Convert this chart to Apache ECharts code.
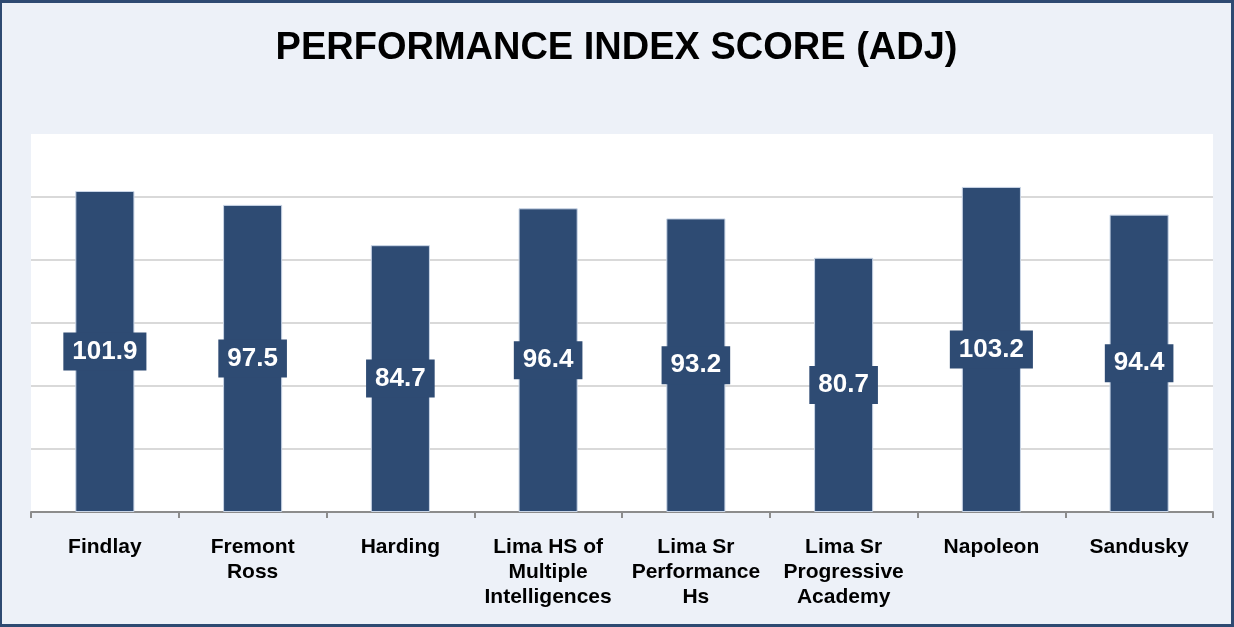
<!DOCTYPE html>
<html>
<head>
    <meta charset="utf-8">
    <script src="https://cdn.jsdelivr.net/npm/echarts@6/dist/echarts.min.js"></script>
    <style>
        html, body { margin: 0; padding: 0; }
        #main {
            width: 1234px; height: 627px;
            box-sizing: border-box;
            border: 3px solid #2e4a72;
            border-left-width: 2px;
            background: #edf1f8;
        }
    </style>
</head>
<body>
<div id="main"></div>
<script type="text/javascript">
    // 学校名 / 分数
    var schools = ['Findlay', 'Fremont\nRoss', 'Harding', 'Lima HS of\nMultiple\nIntelligences',
        'Lima Sr\nPerformance\nHs', 'Lima Sr\nProgressive\nAcademy', 'Napoleon', 'Sandusky'];
    var scores = [101.9, 97.5, 84.7, 96.4, 93.2, 80.7, 103.2, 94.4];

    var barColor = '#2e4b73';
    var font = '"Liberation Sans", Arial, sans-serif';

    var myChart = echarts.init(document.getElementById('main'));
    myChart.setOption({
        animation: false,
        title: {
            text: 'PERFORMANCE INDEX SCORE (ADJ)',
            left: 'center',
            top: 22,
            textStyle: { fontFamily: font, fontSize: 38, fontWeight: 'bold', color: '#000' }
        },
        grid: {
            left: 29, right: 18, top: 131, bottom: 112,
            show: true, backgroundColor: '#fff', borderWidth: 0
        },
        xAxis: {
            type: 'category',
            data: schools,
            axisLine: { lineStyle: { color: '#8c8c8c', width: 2 } },
            axisTick: { show: true, interval: 0, length: 6, lineStyle: { color: '#8c8c8c', width: 2 } },
            axisLabel: {
                margin: 23,
                fontFamily: font, fontSize: 21, fontWeight: 'bold', color: '#000',
                lineHeight: 25, interval: 0
            }
        },
        yAxis: {
            type: 'value',
            min: 0, max: 120, interval: 20,
            axisLabel: { show: false },
            axisLine: { show: false },
            axisTick: { show: false },
            splitLine: { showMaxLine: false, lineStyle: { color: '#d9d9d9', width: 2 } }
        },
        series: [{
            type: 'bar',
            data: scores,
            barWidth: '40%',
            itemStyle: { color: barColor, borderColor: '#c9d5e6', borderWidth: 1 },
            label: {
                show: true,
                position: 'inside',
                formatter: function (p) { return p.value.toFixed(1); },
                fontFamily: font, fontSize: 26, fontWeight: 'bold', color: '#fff',
                lineHeight: 26,
                backgroundColor: barColor,
                padding: [7, 9, 5, 9]
            }
        }]
    });
</script>
</body>
</html>
